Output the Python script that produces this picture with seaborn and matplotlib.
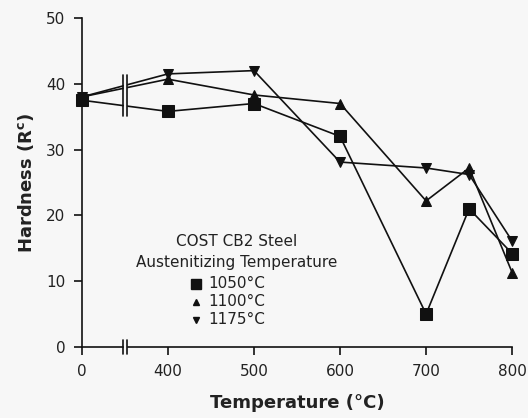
import matplotlib
matplotlib.use("Agg")
import matplotlib.pyplot as plt
import seaborn as sns
import numpy as np
import pandas as pd

temps = [0, 400, 500, 600, 700, 750, 800]
hard_1050 = [37.5, 35.8, 37.0, 32.0, 5.0, 21.0, 14.2]
hard_1100 = [38.0, 40.7, 38.3, 37.0, 22.2, 27.2, 11.3]
hard_1175 = [38.0, 41.5, 42.0, 28.1, 27.2, 26.2, 16.1]
series = ["1050°C", "1100°C", "1175°C"]
x_ticks = [0, 400, 500, 600, 700, 800]
y_ticks = [0, 10, 20, 30, 40, 50]


def to_pos(t):
    # broken axis: 0 maps to 0, 400..800 map to 100..500
    t = np.asarray(t, dtype=float)
    return np.where(t >= 400, t - 300, t)


rows = []
for name, vals in zip(series, [hard_1050, hard_1100, hard_1175]):
    for t, v in zip(temps, vals):
        rows.append({"pos": float(to_pos(t)), "hardness": v, "series": name})
df = pd.DataFrame(rows)

sns.set_theme(style="white")
plt.rcParams["font.family"] = ["DejaVu Sans"]

bg = "#f7f7f7"
fig = plt.figure(figsize=(5.28, 4.18), dpi=100)
fig.patch.set_facecolor(bg)
ax = fig.add_axes([0.155, 0.170, 0.815, 0.787])
ax.set_facecolor(bg)

markers = {"1050°C": "s", "1100°C": "^", "1175°C": "v"}
sizes = {"1050°C": 8, "1100°C": 7.5, "1175°C": 7.5}
for name in series:
    sub = df[df["series"] == name]
    sns.lineplot(data=sub, x="pos", y="hardness", ax=ax, color="#111111",
                 marker=markers[name], markersize=sizes[name], markeredgecolor="#111111",
                 linewidth=1.2, legend=False, clip_on=False, zorder=3)

ax.set_xlim(0, 500)
ax.set_ylim(0, 50)
ax.set_xticks(to_pos(x_ticks))
ax.set_xticklabels([str(t) for t in x_ticks])
ax.set_yticks(y_ticks)
ax.set_yticklabels([str(v) for v in y_ticks])
for s in ["top", "right"]:
    ax.spines[s].set_visible(False)
for s in ["left", "bottom"]:
    ax.spines[s].set_color("#111111")
    ax.spines[s].set_linewidth(1.2)
ax.tick_params(axis="both", direction="out", length=6, width=1.2, color="#111111",
               labelsize=11, colors="#222222", bottom=True, left=True, pad=6)

ax.set_xlabel("Temperature (°C)", fontsize=13, fontweight="bold", labelpad=11,
              color="#222222")
ax.set_ylabel("Hardness (R$^{\\mathbf{c}}$)", fontsize=13, fontweight="bold", labelpad=7,
              color="#222222")

# break marks on x axis
bx = 50
ax.add_patch(plt.Rectangle((bx - 1.5, -0.8), 3, 1.6, color=bg, clip_on=False, zorder=5))
for dx in (-2.3, 2.3):
    ax.plot([bx + dx, bx + dx], [-1.0, 1.0], color="#111111", lw=1.2, clip_on=False, zorder=6)

# break marks across the first segments
y_at = [np.interp(bx, to_pos(temps), v) for v in (hard_1050, hard_1100, hard_1175)]
ylo, yhi = min(y_at) - 1.6, max(y_at) + 1.6
ax.add_patch(plt.Rectangle((bx - 1.5, ylo), 3, yhi - ylo, color=bg, zorder=5))
for dx in (-2.3, 2.3):
    ax.plot([bx + dx, bx + dx], [ylo, yhi], color="#111111", lw=1.2, zorder=6)

# legend block
ax.text(180, 16.0, "COST CB2 Steel", ha="center", va="center", fontsize=11, color="#222222")
ax.text(180, 12.8, "Austenitizing Temperature", ha="center", va="center", fontsize=11,
        color="#222222")
leg_sizes = {"1050°C": 7, "1100°C": 5, "1175°C": 5}
for i, name in enumerate(series):
    yy = 9.6 - 2.75 * i
    ax.plot([133], [yy], marker=markers[name], color="#111111", markersize=leg_sizes[name],
            linestyle="none", zorder=4)
    ax.text(147, yy, name, ha="left", va="center", fontsize=11, color="#222222")

fig.savefig("out.png", dpi=100, facecolor=fig.get_facecolor())
